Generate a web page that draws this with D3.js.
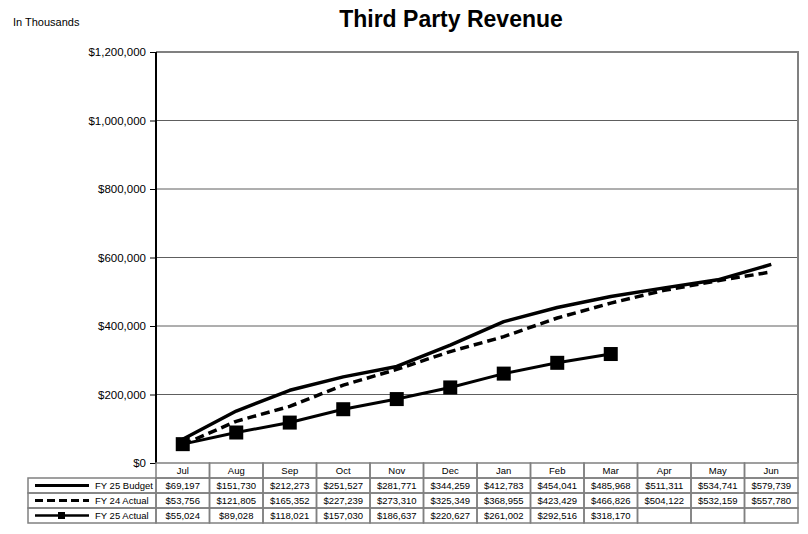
<!DOCTYPE html>
<html><head><meta charset="utf-8">
<script src="https://cdn.jsdelivr.net/npm/d3@7"></script>
<style>
body{margin:0;background:#fff;}
svg{display:block;}
</style></head>
<body>
<svg id="c" width="808" height="534"></svg>
<script>
const months = ["Jul","Aug","Sep","Oct","Nov","Dec","Jan","Feb","Mar","Apr","May","Jun"];
const budget25 = [69197,151730,212273,251527,281771,344259,412783,454041,485968,511311,534741,579739];
const actual24 = [53756,121805,165352,227239,273310,325349,368955,423429,466826,504122,532159,557780];
const actual25 = [55024,89028,118021,157030,186637,220627,261002,292516,318170,null,null,null];
const seriesNames = ["FY 25 Budget","FY 24 Actual","FY 25 Actual"];
const yTicks = [0,200000,400000,600000,800000,1000000,1200000];
const title = "Third Party Revenue";
const unitNote = "In Thousands";

const svg = d3.select("#c");
const L = 156, R = 798, T = 52, B = 463;
const x = d3.scaleBand().domain(months).range([L, R]).padding(0);
const y = d3.scaleLinear().domain([0, 1200000]).range([B, T]);
const fmt = d3.format("$,");
const gray = "#808080";

svg.append("text").attr("x", 13).attr("y", 26).attr("font-family", "Liberation Sans, Arial, sans-serif")
  .attr("font-size", 11).text(unitNote);
svg.append("text").attr("x", 451).attr("y", 27).attr("text-anchor", "middle")
  .attr("font-family", "Liberation Sans, Arial, sans-serif").attr("font-weight", "bold")
  .attr("font-size", 23).text(title);

// gridlines
svg.append("g").selectAll("line").data(yTicks.filter(d => d > 0 && d < 1200000)).join("line")
  .attr("x1", L).attr("x2", R).attr("y1", d => y(d)).attr("y2", d => y(d))
  .attr("stroke", "#5e5e5e").attr("stroke-width", 1);
// border top/right
svg.append("path").attr("d", `M${L},${T}H${R}V${B}`).attr("fill", "none")
  .attr("stroke", gray).attr("stroke-width", 2);

// y axis
const yAxis = d3.axisLeft(y).tickValues(yTicks).tickFormat(fmt).tickSize(6).tickPadding(4);
const ga = svg.append("g").attr("transform", `translate(${L},0)`).call(yAxis);
ga.select(".domain").remove();
ga.selectAll("text").attr("font-family", "Liberation Sans, Arial, sans-serif").attr("font-size", 11.5).attr("fill", "#000");
ga.selectAll(".tick line").attr("stroke", "#000");
svg.append("line").attr("x1", L).attr("x2", L).attr("y1", T).attr("y2", B)
  .attr("stroke", "#000").attr("stroke-width", 2);

const cx = d => x(d) + x.bandwidth() / 2;
const line = d3.line().defined(d => d.v != null).x(d => cx(d.m)).y(d => y(d.v));
const mk = arr => months.map((m, i) => ({m, v: arr[i]}));

svg.append("path").datum(mk(budget25)).attr("d", line).attr("fill", "none")
  .attr("stroke", "#000").attr("stroke-width", 3.5).attr("stroke-linejoin", "round");
svg.append("path").datum(mk(actual24)).attr("d", line).attr("fill", "none")
  .attr("stroke", "#000").attr("stroke-width", 3.5).attr("stroke-dasharray", "9,5");
svg.append("path").datum(mk(actual25)).attr("d", line).attr("fill", "none")
  .attr("stroke", "#000").attr("stroke-width", 3);
svg.append("g").selectAll("rect").data(mk(actual25).filter(d => d.v != null)).join("rect")
  .attr("x", d => cx(d.m) - 7).attr("y", d => y(d.v) - 7).attr("width", 14).attr("height", 14)
  .attr("fill", "#000");

// data table
const rowH = 15;
const tb = svg.append("g");
const tFont = "Liberation Sans Narrow, Arial Narrow, Liberation Sans, sans-serif";
months.forEach(m => {
  tb.append("rect").attr("x", x(m)).attr("y", B).attr("width", x.bandwidth()).attr("height", rowH)
    .attr("fill", "none").attr("stroke", gray).attr("stroke-width", 1.5);
  tb.append("text").attr("x", cx(m)).attr("y", B + 11).attr("text-anchor", "middle")
    .attr("font-family", tFont).attr("font-size", 9.5).text(m);
});
const rows = [budget25, actual24, actual25];
const LegL = 28;
rows.forEach((arr, r) => {
  const ry = B + rowH * (r + 1);
  tb.append("rect").attr("x", LegL).attr("y", ry).attr("width", L - LegL).attr("height", rowH)
    .attr("fill", "none").attr("stroke", gray).attr("stroke-width", 1.5);
  const ly = ry + rowH / 2;
  const ls = tb.append("line").attr("x1", 35).attr("x2", 89).attr("y1", ly).attr("y2", ly)
    .attr("stroke", "#000").attr("stroke-width", r === 2 ? 2.5 : 3);
  if (r === 1) ls.attr("stroke-dasharray", "8,4");
  if (r === 2) tb.append("rect").attr("x", 58).attr("y", ly - 3.5).attr("width", 7).attr("height", 7).attr("fill", "#000");
  tb.append("text").attr("x", 95).attr("y", ry + 11).attr("font-family", tFont).attr("font-size", 9.5)
    .text(seriesNames[r]);
  months.forEach((m, i) => {
    tb.append("rect").attr("x", x(m)).attr("y", ry).attr("width", x.bandwidth()).attr("height", rowH)
      .attr("fill", "none").attr("stroke", gray).attr("stroke-width", 1.5);
    if (arr[i] != null)
      tb.append("text").attr("x", cx(m)).attr("y", ry + 11).attr("text-anchor", "middle")
        .attr("font-family", tFont).attr("font-size", 9.5).text(fmt(arr[i]));
  });
});
</script>
</body></html>
